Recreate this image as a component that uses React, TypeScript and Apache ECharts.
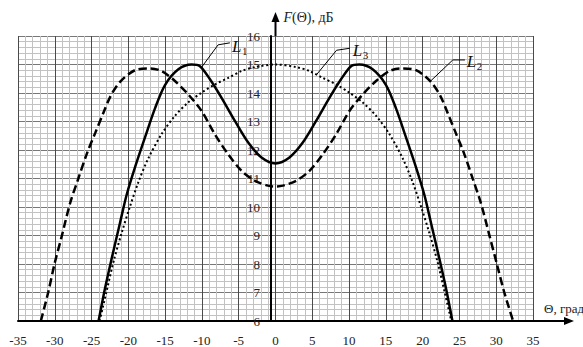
import React, { useEffect, useRef } from "react";
import * as echarts from "echarts";

// Curve L1 (solid)
const l1Theta = [-24.05, -23.17, -22.26, -21.13, -20.23, -19.1, -17.74, -16.38, -15.02, -13.2, -11.4, -10.27, -8.91, -7.33, -5.52, -3.71, -1.9, 0, 1.9, 3.71, 5.52, 7.33, 8.91, 10.27, 11.4, 13.2, 15.02, 16.38, 17.74, 19.1, 20.23, 21.13, 22.26, 23.17, 24.05];
const l1Gain = [6.0, 7.15, 8.2, 9.45, 10.43, 11.39, 12.44, 13.46, 14.28, 14.83, 15.0, 14.94, 14.48, 13.83, 13.02, 12.26, 11.74, 11.53, 11.74, 12.26, 13.02, 13.83, 14.48, 14.94, 15.0, 14.83, 14.28, 13.46, 12.44, 11.39, 10.43, 9.45, 8.2, 7.15, 6.0];

// Curve L2 (dashed)
const l2Theta = [-31.9, -30.9, -30.05, -29.05, -27.9, -26.8, -25.6, -24.5, -23.4, -22.4, -21.1, -19.1, -17.06, -15.48, -13.67, -11.86, -10.05, -8.24, -6.43, -4.62, -2.81, -1.0, 0, 1.0, 2.81, 4.62, 6.43, 8.24, 10.05, 11.86, 13.67, 15.48, 17.06, 19.1, 21.1, 22.4, 23.4, 24.5, 25.6, 26.8, 27.9, 29.1, 30.1, 31.1, 32.3];
const l2Gain = [6.0, 7.0, 7.99, 8.98, 10.15, 11.0, 11.9, 12.6, 13.3, 13.9, 14.4, 14.8, 14.86, 14.77, 14.42, 13.95, 13.37, 12.55, 11.85, 11.27, 10.92, 10.75, 10.72, 10.75, 10.92, 11.27, 11.85, 12.55, 13.37, 13.95, 14.42, 14.77, 14.86, 14.8, 14.4, 13.9, 13.3, 12.6, 11.9, 11.0, 10.15, 8.98, 7.99, 7.0, 6.0];

// Curve L3 (dotted)
const l3Theta = [-23.9, -23.0, -22.0, -20.9, -19.8, -18.6, -17.3, -15.5, -13.7, -11.9, -10.05, -8.24, -6.43, -4.62, -2.81, 0, 2.81, 4.62, 6.43, 8.24, 10.05, 11.9, 13.7, 15.5, 17.3, 18.6, 19.8, 20.9, 22.0, 23.0, 23.9];
const l3Gain = [6.0, 7.0, 8.1, 9.1, 10.0, 10.9, 11.7, 12.55, 13.19, 13.66, 14.01, 14.3, 14.53, 14.77, 14.91, 15.0, 14.91, 14.77, 14.53, 14.3, 14.01, 13.66, 13.19, 12.55, 11.7, 10.9, 10.0, 9.1, 8.1, 7.0, 6.0];

// Axis ranges [min, max, interval]
const thetaRange = [-35, 35, 5];
const gainRange = [6, 16, 1];

// Callout labels: leader path in data coords, then label anchor
const calloutNames = ["1", "3", "2"];
const calloutPaths = [
  [[-10.0, 14.92], [-7.8, 15.69], [-6.2, 15.76]],
  [[5.6, 14.65], [8.3, 15.5], [10.1, 15.57]],
  [[21.0, 14.4], [24.1, 15.16], [25.75, 15.16]],
];
const calloutText = [[-5.9, 15.62], [10.5, 15.48], [26.0, 15.09]];

const zip = (xs: number[], ys: number[]) => xs.map((x, i) => [x, ys[i]]);

export default function App() {
  const ref = useRef<HTMLDivElement>(null);
  useEffect(() => {
    const chart = echarts.init(ref.current!, null, { renderer: "svg" });
    const font = "Liberation Serif";
    chart.setOption({
      animation: false,
      grid: { left: 18, right: 50, top: 36, bottom: 25 },
      xAxis: {
        type: "value",
        min: thetaRange[0],
        max: thetaRange[1],
        interval: thetaRange[2],
        axisLine: { onZero: false, lineStyle: { color: "#000", width: 2 } },
        axisTick: { show: false },
        axisLabel: { color: "#222", fontFamily: font, fontSize: 13, margin: 13 },
        splitLine: { show: true, lineStyle: { color: "#4a4a4a", width: 1 } },
        minorTick: { show: false, splitNumber: 5 },
        minorSplitLine: { show: true, lineStyle: { color: "#c2c2c2", width: 1 } },
        z: 2,
      },
      yAxis: {
        type: "value",
        position: "left",
        min: gainRange[0],
        max: gainRange[1],
        interval: gainRange[2],
        axisLine: { onZero: false, lineStyle: { color: "#000", width: 2 } },
        axisTick: { show: false },
        axisLabel: { color: "#222", fontFamily: font, fontSize: 13, margin: 11, showMinLabel: true, showMaxLabel: true },
        splitLine: { show: true, lineStyle: { color: "#777", width: 1 } },
        minorTick: { show: false, splitNumber: 5 },
        minorSplitLine: { show: true, lineStyle: { color: "#c2c2c2", width: 1 } },
        z: 2,
      },
      series: [
        {
          type: "line",
          data: zip(l3Theta, l3Gain),
          smooth: 0.3,
          symbol: "none",
          lineStyle: { color: "#000", width: 2, type: [2, 2.6] },
          z: 3,
        },
        {
          type: "line",
          data: zip(l2Theta, l2Gain),
          smooth: 0.3,
          symbol: "none",
          lineStyle: { color: "#000", width: 2.5, type: [8, 4] },
          z: 3,
        },
        {
          type: "line",
          data: zip(l1Theta, l1Gain),
          smooth: 0.3,
          symbol: "none",
          lineStyle: { color: "#000", width: 2.5 },
          z: 4,
        },
      ],
    });

    const p = (x: number, y: number) => chart.convertToPixel({ gridIndex: 0 }, [x, y]) as number[];
    // move the y axis (with its labels) onto theta = 0
    const leftPx = p(thetaRange[0], gainRange[0])[0];
    const zeroPx = p(0, gainRange[0])[0];
    chart.setOption({ yAxis: { offset: -(zeroPx - leftPx) } });

    const xEnd = p(thetaRange[1], gainRange[0]);
    const yEnd = p(0, gainRange[1]);
    const graphics: any[] = [];
    // x axis extension + arrow
    graphics.push({
      type: "line",
      shape: { x1: xEnd[0], y1: xEnd[1], x2: xEnd[0] + 33, y2: xEnd[1] },
      style: { stroke: "#000", lineWidth: 2 },
      z: 10,
    });
    graphics.push({
      type: "polygon",
      shape: { points: [[xEnd[0] + 31, xEnd[1] - 4], [xEnd[0] + 41, xEnd[1]], [xEnd[0] + 31, xEnd[1] + 4]] },
      style: { fill: "#000" },
      z: 10,
    });
    // y axis extension + arrow
    graphics.push({
      type: "line",
      shape: { x1: yEnd[0], y1: yEnd[1], x2: yEnd[0], y2: yEnd[1] - 15 },
      style: { stroke: "#000", lineWidth: 2 },
      z: 10,
    });
    graphics.push({
      type: "polygon",
      shape: { points: [[yEnd[0] - 4, yEnd[1] - 14], [yEnd[0], yEnd[1] - 24], [yEnd[0] + 4, yEnd[1] - 14]] },
      style: { fill: "#000" },
      z: 10,
    });
    // axis titles
    graphics.push({
      type: "text",
      x: yEnd[0] + 8,
      y: yEnd[1] - 19,
      style: {
        text: "{i|F}{n|(Θ), дБ}",
        rich: {
          i: { fontFamily: font, fontSize: 14, fontStyle: "italic", fill: "#222" },
          n: { fontFamily: font, fontSize: 14, fill: "#222" },
        },
        verticalAlign: "middle",
        align: "left",
      },
      z: 10,
    });
    graphics.push({
      type: "text",
      x: xEnd[0] + 11,
      y: xEnd[1] - 13,
      style: { text: "Θ, град", fontFamily: font, fontSize: 13, fill: "#222", verticalAlign: "middle", align: "left" },
      z: 10,
    });
    // callouts
    calloutPaths.forEach((path, i) => {
      graphics.push({
        type: "polyline",
        shape: { points: path.map(([x, y]) => p(x, y)) },
        style: { stroke: "#000", lineWidth: 1, fill: null },
        z: 10,
      });
      const t = p(calloutText[i][0], calloutText[i][1]);
      graphics.push({
        type: "text",
        x: t[0],
        y: t[1],
        style: { text: "L", fontFamily: font, fontSize: 17, fontStyle: "italic", fill: "#111", verticalAlign: "middle", align: "left" },
        z: 10,
      });
      graphics.push({
        type: "text",
        x: t[0] + 10,
        y: t[1] + 4,
        style: { text: calloutNames[i], fontFamily: font, fontSize: 11, fill: "#111", verticalAlign: "middle", align: "left" },
        z: 10,
      });
    });
    chart.setOption({ graphic: graphics });
    return () => chart.dispose();
  }, []);
  return (
    <div
      ref={ref}
      style={{ position: "fixed", left: 0, top: 0, width: 583, height: 347, background: "#fff" }}
    />
  );
}
